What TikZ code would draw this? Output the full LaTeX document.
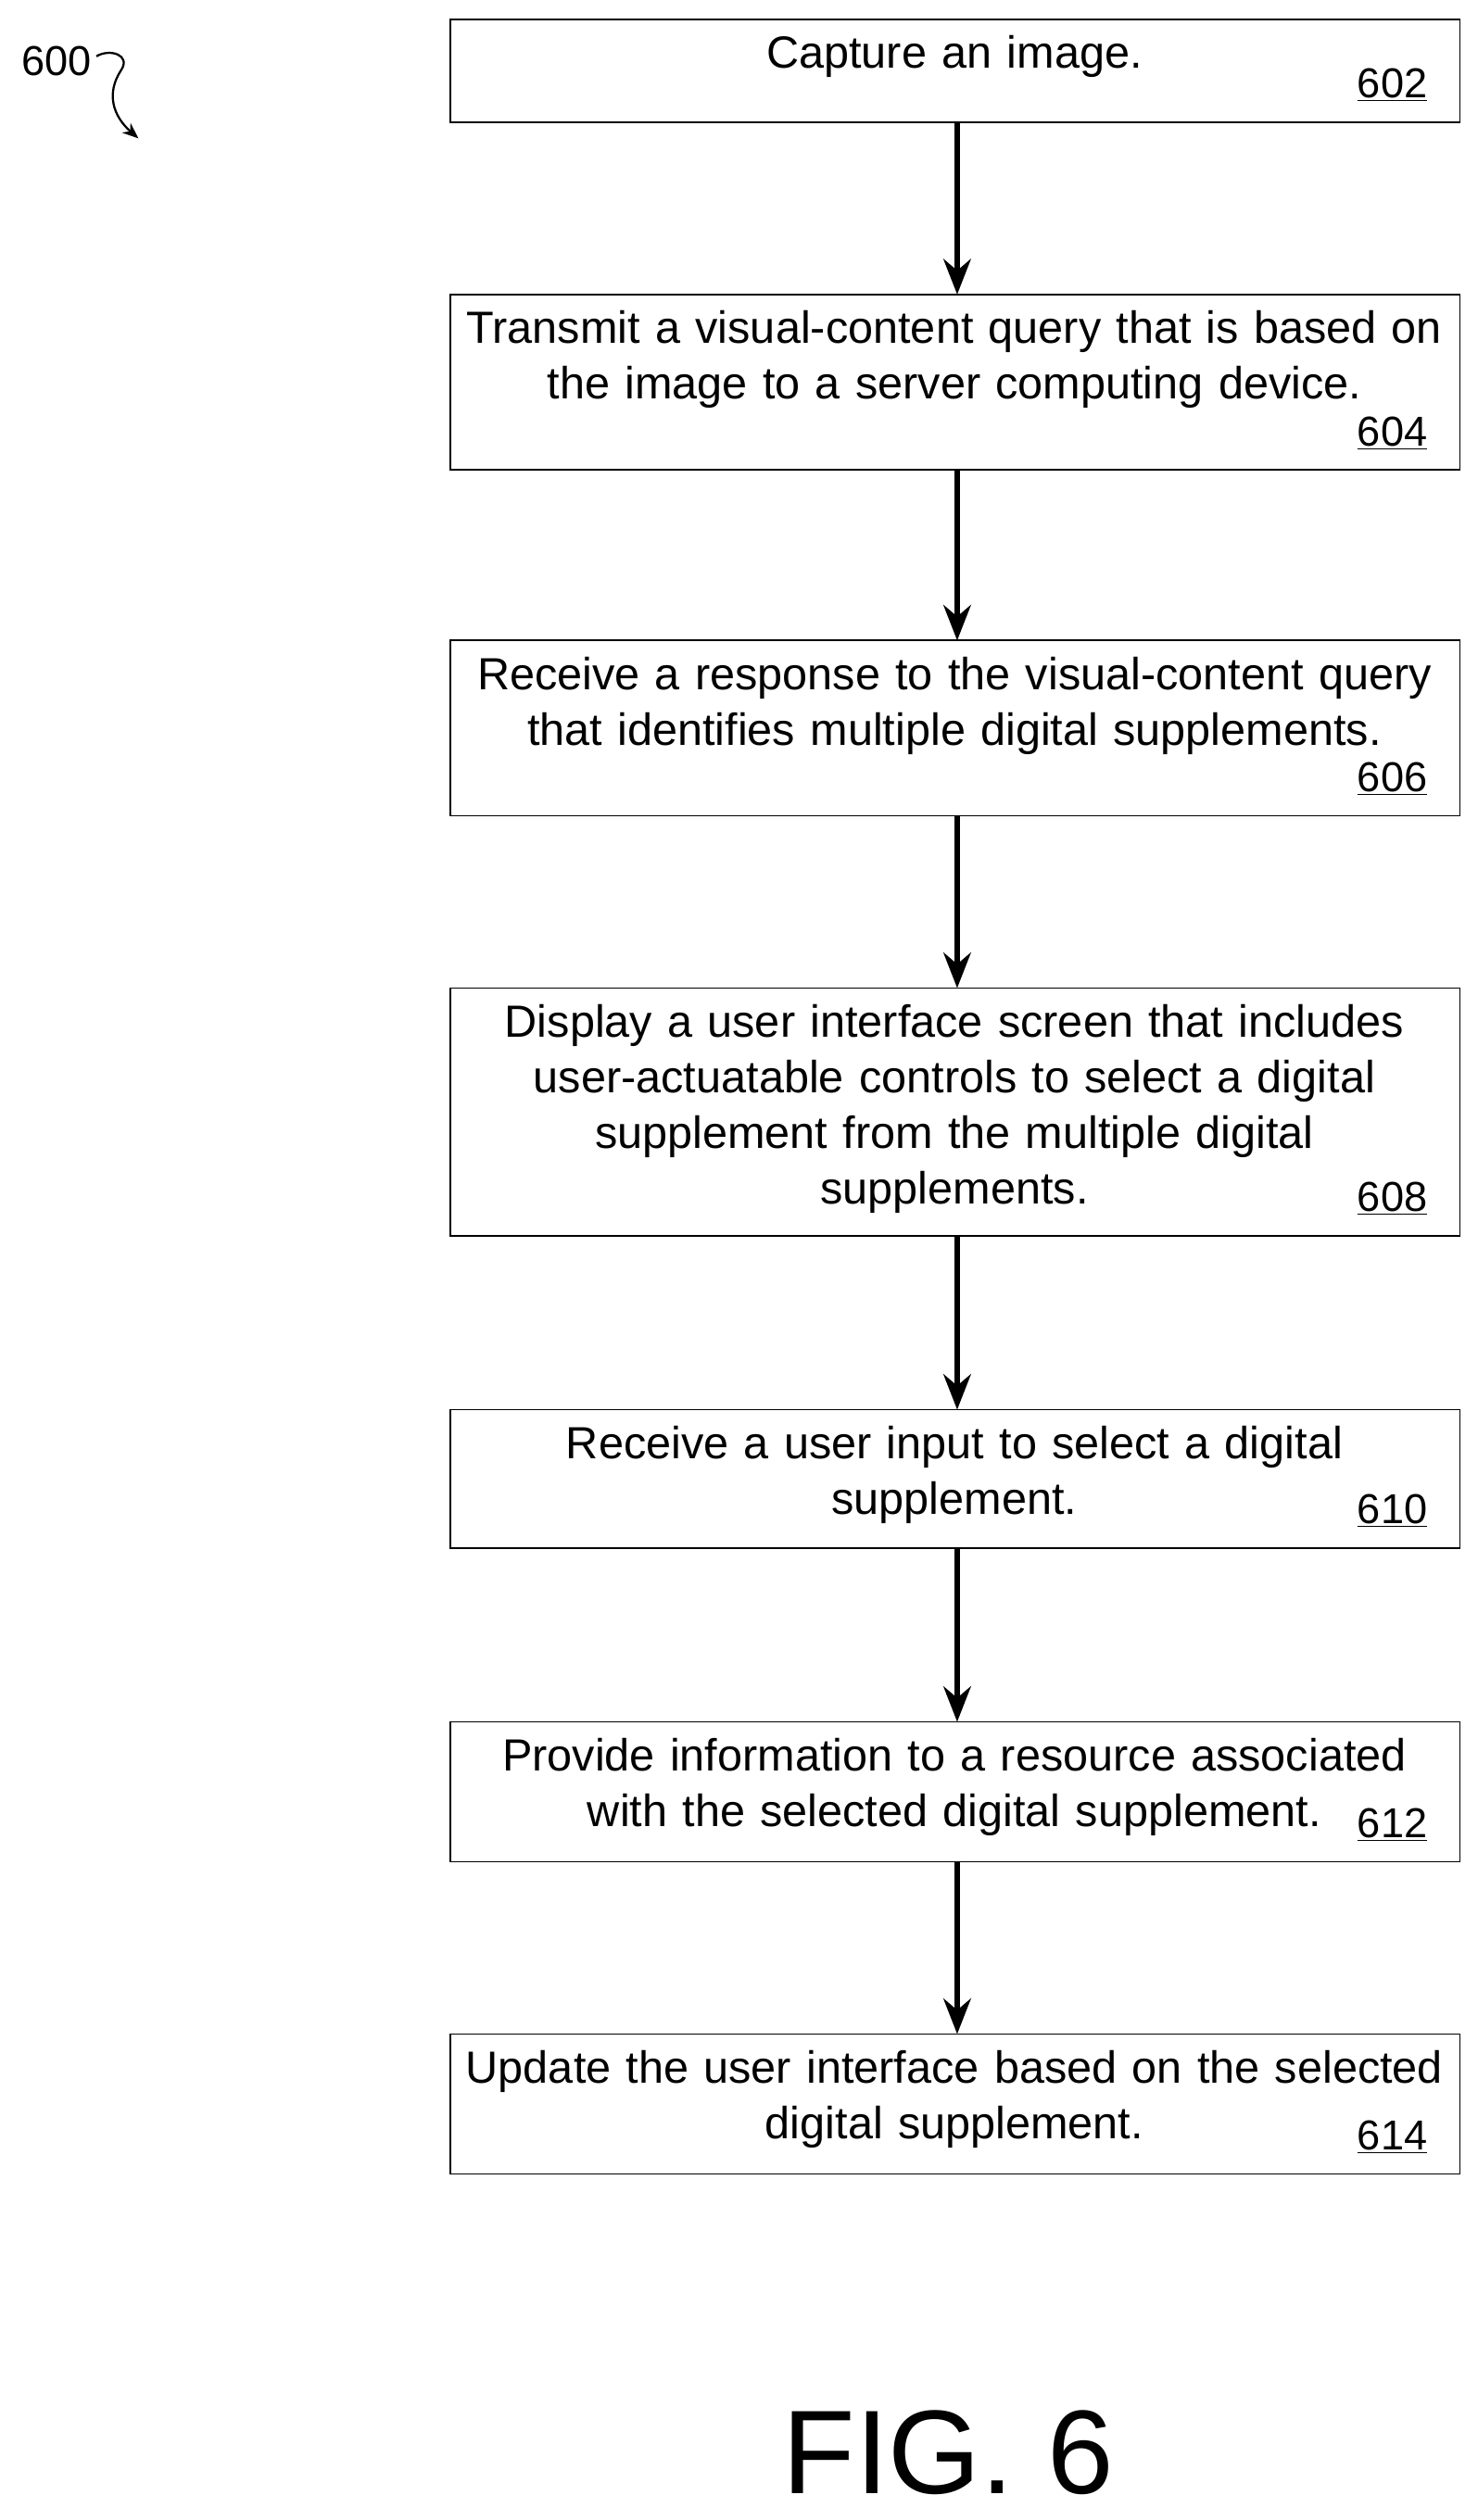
\documentclass[tikz,border=0pt]{standalone}
\usepackage{fontspec}
\setmainfont{Liberation Sans}
\usetikzlibrary{arrows.meta}
\begin{document}
\begin{tikzpicture}[x=1pt,y=-1pt,
  box/.style={draw,line width=1pt},
  txt/.style={anchor=north,text width=627pt,align=center,font=\fontsize{28}{34.5}\selectfont,inner sep=0pt},
  num/.style={anchor=east,font=\fontsize{26}{28}\selectfont,inner sep=0pt},
  arr/.style={line width=3.5pt,-{Stealth[length=22pt,width=17pt]}}]
\useasboundingbox (0,0) rectangle (918,1566);
\newcommand{\stepbox}[5]{%
  \draw[box] (280,#2) rectangle (907,#3);
  \node[minimum width=627pt,minimum height={#3-#2},anchor=north west,inner sep=0pt] (#1) at (280,#2) {};
  \node[txt] (#1t) at (593,#2+10) {#4};
  \node[num] (#1n) at (887,#3-23) {\underline{#5}};}
\stepbox{b602}{12}{76}{Capture an image.}{602}
\stepbox{b604}{183}{292}{Transmit a visual-content query that is based on\\ the image to a server computing device.}{604}
\stepbox{b606}{398}{507}{Receive a response to the visual-content query\\ that identifies multiple digital supplements.}{606}
\stepbox{b608}{614}{768}{Display a user interface screen that includes\\ user-actuatable controls to select a digital\\ supplement from the multiple digital\\ supplements.}{608}
\stepbox{b610}{876}{962}{Receive a user input to select a digital\\ supplement.}{610}
\stepbox{b612}{1070}{1157}{Provide information to a resource associated\\ with the selected digital supplement.}{612}
\stepbox{b614}{1264}{1351}{Update the user interface based on the selected\\ digital supplement.}{614}
\foreach \a/\b in {b602/b604,b604/b606,b606/b608,b608/b610,b610/b612,b612/b614}
  \draw[arr] ([xshift=1pt]\a.south) -- ([xshift=1pt]\b.north);
\node[font=\fontsize{26}{28}\selectfont,inner sep=0pt] (l600) at (35,38) {600};
\coordinate (c1) at (86,86);
\draw[line width=1.3pt,-{Stealth[length=10pt,width=8pt]}] (l600.east) ++(3,-3) .. controls (68,30) and (82,34) .. (75,44) .. controls (66,58) and (70,72) .. (c1);
\node[font=\fontsize{74}{76}\selectfont,inner sep=0pt] (fig) at (589,1524) {FIG. 6};
\end{tikzpicture}
\end{document}
